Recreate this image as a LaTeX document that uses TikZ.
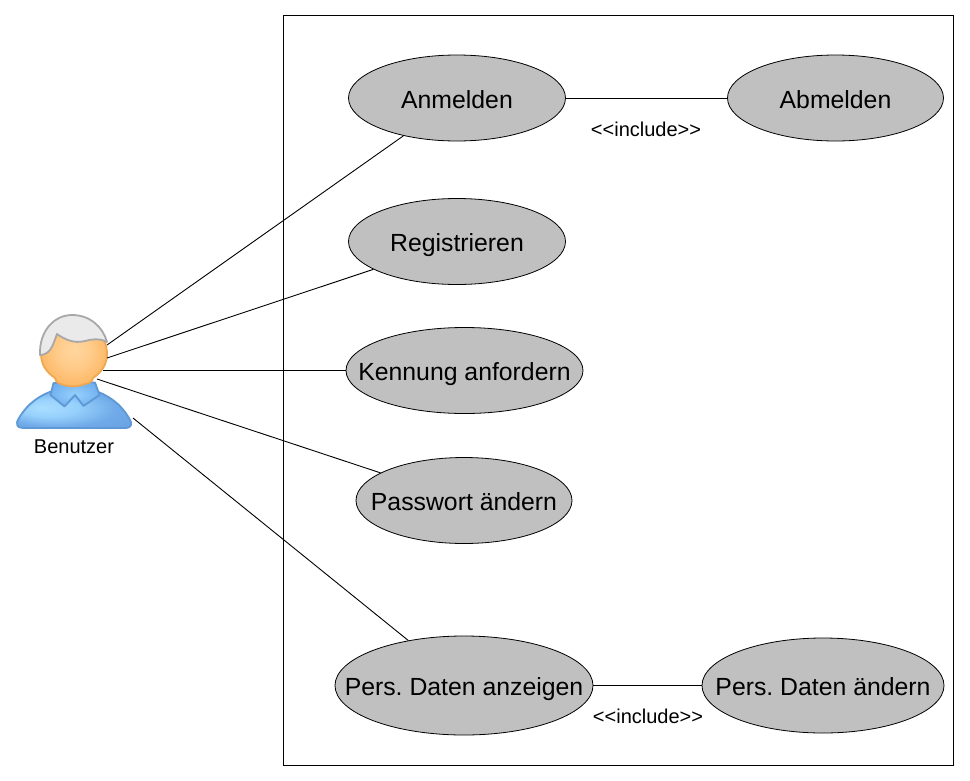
\documentclass[tikz,border=0pt]{standalone}
\usepackage{fontspec}
\setmainfont{Liberation Sans}
\usetikzlibrary{shapes.geometric}
\frenchspacing
\definecolor{ucfill}{HTML}{C0C0C0}
\definecolor{bodyedge}{HTML}{5F98D6}
\definecolor{skinedge}{HTML}{F0A850}
\definecolor{hairedge}{HTML}{A8A8A8}
\definecolor{hairfill}{HTML}{EAEAEA}
\definecolor{ba}{HTML}{AADEFF}
\definecolor{bb}{HTML}{96D0FC}
\definecolor{bc}{HTML}{70AAE8}
\definecolor{bd}{HTML}{649BDE}
\definecolor{sa}{HTML}{FFD69E}
\definecolor{sb}{HTML}{FFCC8C}
\definecolor{sc}{HTML}{FDBA69}
\definecolor{sd}{HTML}{FAB05A}
\definecolor{ca}{HTML}{96D0FC}
\definecolor{cb}{HTML}{73B2F0}
\definecolor{cc}{HTML}{69A5E6}
\pgfdeclareradialshading{bodyshadeb}{\pgfpoint{-14bp}{2bp}}{
  color(0bp)=(ba); color(12bp)=(bb); color(25bp)=(bc); color(50bp)=(bd)}
\pgfdeclareradialshading{skinshade}{\pgfpoint{0bp}{4bp}}{
  color(0bp)=(sa); color(12bp)=(sb); color(25bp)=(sc); color(50bp)=(sd)}
\pgfdeclareradialshading{collarshade}{\pgfpoint{0bp}{0bp}}{
  color(0bp)=(ca); color(25bp)=(cb); color(50bp)=(cc)}
\newcommand{\uctext}[1]{\makebox[0pt]{\raisebox{-0.42em}[0pt][0pt]{#1}}}
\tikzset{
  usecase/.style={ellipse,draw=black,fill=ucfill,line width=0.8pt,inner sep=0pt,font=\fontsize{24.8}{28}\selectfont},
  rel/.style={draw=black,line width=0.9pt},
  smalltext/.style={font=\fontsize{20}{24}\selectfont,inner sep=0pt},
  sysbox/.style={draw=black,line width=0.9pt},
  bodypart/.style={draw=bodyedge,line width=1.8pt,line join=round},
  skinpart/.style={draw=skinedge,line width=1.8pt,line join=round},
  hairpart/.style={draw=hairedge,fill=hairfill,line width=1.8pt,line join=round}
}
\begin{document}
\begin{tikzpicture}[x=1pt,y=-1pt]
\useasboundingbox (0,0) rectangle (970,780);
\node[sysbox,minimum width=670pt,minimum height=750pt,inner sep=0pt,anchor=north west] (sys) at (283,15) {};
% use cases
\node[usecase,minimum width=217pt,minimum height=86pt] (an) at (457,98) {\uctext{Anmelden}};
\node[usecase,minimum width=216pt,minimum height=86pt] (ab) at (835.5,98) {\uctext{Abmelden}};
\node[usecase,minimum width=217pt,minimum height=86pt] (re) at (457,241.5) {\uctext{Registrieren}};
\node[usecase,minimum width=237pt,minimum height=86pt] (ke) at (464.5,370.5) {\uctext{Kennung anfordern}};
\node[usecase,minimum width=216pt,minimum height=86pt] (pw) at (464,500.5) {\uctext{Passwort ändern}};
\node[usecase,minimum width=258pt,minimum height=99pt] (pa) at (464,685.5) {\uctext{Pers. Daten anzeigen}};
\node[usecase,minimum width=242pt,minimum height=95pt] (pd) at (823,685.5) {\uctext{Pers. Daten ändern}};
% actor
\path[bodypart,shading=bodyshadeb] (23,428) .. controls (17,428) and (15,424) .. (19,418)
  .. controls (28,403) and (40,395) .. (55,390) -- (93,390)
  .. controls (108,395) and (120,403) .. (129,418)
  .. controls (133,424) and (131,428) .. (126,428) -- cycle;
\path[bodypart,shading=collarshade] (53.5,383) -- (50.5,395) -- (64.5,406.5) -- (75,395) -- (83.5,406) -- (99.5,395) -- (95,382.5) -- cycle;
\path[skinpart,shading=skinshade] (55,378) .. controls (46,372) and (41,364) .. (41,354)
  .. controls (41,336) and (56,322) .. (74,322)
  .. controls (92,322) and (107,336) .. (107,354)
  .. controls (107,364) and (102,372) .. (93,378)
  .. controls (92,382) and (90,383) .. (85,384)
  .. controls (78,387) and (68,387) .. (61,384)
  .. controls (57,383) and (55,381) .. (55,378) -- cycle;
\path[hairpart] (40,355) .. controls (39,330) and (55,315) .. (72,315)
  .. controls (90,315) and (103,327) .. (107,342)
  .. controls (100,338) and (92,339) .. (85,341)
  .. controls (74,344) and (64,339) .. (57,334)
  .. controls (54,342) and (52,349) .. (48,352)
  .. controls (46,354) and (42,355) .. (40,355) -- cycle;
\node[smalltext] (actor) at (74,447) {Benutzer};
% actor connection points
\coordinate (a1) at (107,345);
\coordinate (a2) at (107,358);
\coordinate (a3) at (103,370.5);
\coordinate (a4) at (97,379);
\coordinate (a5) at (133,418);
\draw[rel] (a1) -- (an);
\draw[rel] (a2) -- (re);
\draw[rel] (a3) -- (ke);
\draw[rel] (a4) -- (pw);
\draw[rel] (a5) -- (pa);
\draw[rel] (an) -- (ab);
\draw[rel] (pa) -- (pd);
\node[smalltext] (inc1) at (646,129) {<{}<{}include>{}>};
\node[smalltext] (inc2) at (648,716.5) {<{}<{}include>{}>};
\end{tikzpicture}
\end{document}
